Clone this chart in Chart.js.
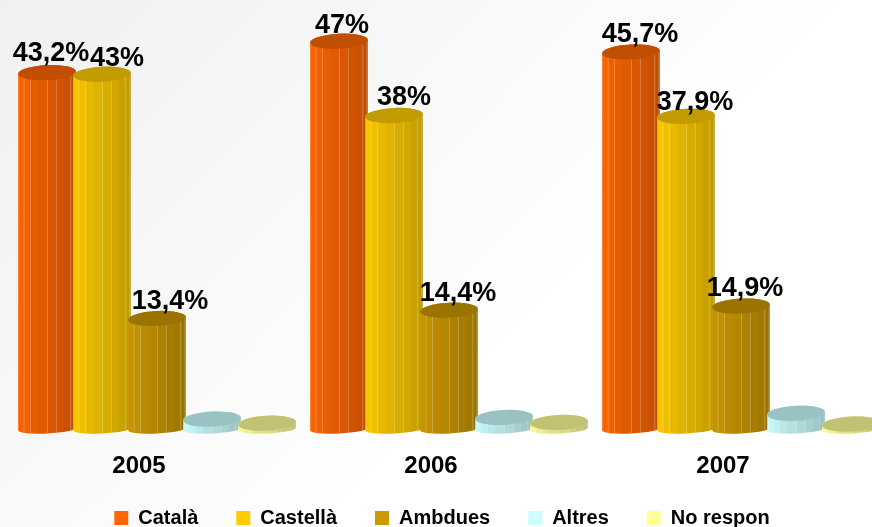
<!DOCTYPE html>
<html lang="ca">
<head>
    <meta charset="UTF-8">
    <title>Llengua 2005-2007</title>
    <script src="https://cdn.jsdelivr.net/npm/chart.js"></script>
    <style>
        html, body {
            margin: 0;
            width: 872px;
            height: 527px;
            overflow: hidden;
            background: linear-gradient(135deg, #f0f0f0 0%, #f9f9f9 38%, #ffffff 62%);
        }
        .wrap {
            position: absolute;
            left: -18px;
            top: 0;
            width: 918px;
            height: 544px;
        }
    </style>
</head>
<body>
    <div class="wrap"><canvas id="myChart"></canvas></div>

    <script>
        const years = ['2005', '2006', '2007'];
        const catala = [43.2, 47, 45.7];
        const castella = [43, 38, 37.9];
        const ambdues = [13.4, 14.4, 14.9];
        const altres = [1.2, 1.4, 1.9];
        const noRespon = [0.7, 0.8, 0.6];

        // només aquestes sèries porten etiqueta
        const labelled = [0, 1, 2];
        const labelNudgeX = [[4, 3, 9], [15, 10, 9], [13, 9, 4]];
        const labelNudgeY = [[-3, 1, -1], [1, -2, 3], [0, 0, -1]];

        const series = [
            { label: 'Català', data: catala, color: [255, 102, 0] },
            { label: 'Castellà', data: castella, color: [255, 204, 0] },
            { label: 'Ambdues', data: ambdues, color: [204, 153, 0] },
            { label: 'Altres', data: altres, color: [204, 255, 255] },
            { label: 'No respon', data: noRespon, color: [255, 255, 153] }
        ];

        function shade(c, k) {
            return `rgb(${Math.round(c[0] * k)},${Math.round(c[1] * k)},${Math.round(c[2] * k)})`;
        }

        // dibuixa cada barra com un cilindre a partir de l'element del gràfic
        function drawCylinder(ctx, bar, color) {
            const w = bar.width;
            const rx = w / 2;
            const tilt = -0.05;
            const topRy = 7.5;
            const baseRy = 4.5;

            ctx.save();
            ctx.beginPath();
            ctx.ellipse(bar.x, bar.y, rx, topRy, tilt, Math.PI, 0, false);
            ctx.ellipse(bar.x, bar.base, rx, baseRy, tilt, 0, Math.PI, false);
            ctx.closePath();
            ctx.clip();

            const facets = 10;
            for (let i = 0; i < facets; i++) {
                const a = Math.PI * i / facets;
                const b = Math.PI * (i + 1) / facets;
                const x0 = bar.x - rx * Math.cos(a);
                const x1 = bar.x - rx * Math.cos(b);
                ctx.fillStyle = shade(color, 1 - 0.27 * i / (facets - 1));
                ctx.fillRect(x0, bar.y - 15, x1 - x0 + 0.5, bar.base - bar.y + 30);
                if (i > 0 && i % 3 !== 1) {
                    ctx.fillStyle = 'rgba(255,255,255,0.25)';
                    ctx.fillRect(x0, bar.y - 15, 1, bar.base - bar.y + 30);
                }
            }
            ctx.restore();

            ctx.fillStyle = shade(color, 0.76);
            ctx.beginPath();
            ctx.ellipse(bar.x, bar.y, rx, topRy, tilt, 0, Math.PI * 2);
            ctx.fill();
        }

        const cylinders = {
            id: 'cylinders',
            // la llegenda queda una mica més amunt i a l'esquerra del que toca per defecte
            afterLayout(chart) {
                chart.legend.top -= 6;
                chart.legend.left -= 7;
                chart.legend.right -= 7;
            },
            // el gràfic pinta de l'última sèrie a la primera: ho cancel·lem i ho fem al revés
            beforeDatasetDraw() {
                return false;
            },
            afterDatasetsDraw(chart) {
                const ctx = chart.ctx;
                series.forEach((s, idx) => {
                    chart.getDatasetMeta(idx).data.forEach(el => {
                        drawCylinder(ctx, el.getProps(['x', 'y', 'base', 'width'], true), s.color);
                    });
                });

                ctx.save();
                ctx.fillStyle = '#000';
                ctx.font = 'bold 27px "Liberation Sans", Arial, sans-serif';
                ctx.textAlign = 'center';
                ctx.textBaseline = 'alphabetic';
                labelled.forEach(s => {
                    chart.getDatasetMeta(s).data.forEach((el, i) => {
                        const text = String(series[s].data[i]).replace('.', ',') + '%';
                        ctx.fillText(text, el.x + labelNudgeX[s][i], el.y - 9 + labelNudgeY[s][i]);
                    });
                });
                ctx.restore();
            }
        };

        const ctx = document.getElementById('myChart').getContext('2d');
        const myChart = new Chart(ctx, {
            type: 'bar',
            data: {
                labels: years,
                datasets: series.map(s => ({
                    label: s.label,
                    data: s.data,
                    backgroundColor: shade(s.color, 1),
                    barPercentage: 1.05,
                    categoryPercentage: 0.942
                }))
            },
            plugins: [cylinders],
            options: {
                responsive: true,
                maintainAspectRatio: false,
                animation: false,
                layout: { padding: { left: 29, right: 13, top: 0, bottom: 0 } },
                plugins: {
                    tooltip: { enabled: false },
                    legend: {
                        position: 'bottom',
                        labels: {
                            boxWidth: 14,
                            boxHeight: 14,
                            padding: 38,
                            color: '#000',
                            font: { family: '"Liberation Sans", Arial, sans-serif', size: 20, weight: 'bold' }
                        }
                    }
                },
                scales: {
                    x: {
                        grid: { display: false },
                        border: { display: false },
                        afterFit(scale) { scale.height = 47; },
                        ticks: {
                            color: '#000',
                            labelOffset: -18,
                            padding: 15,
                            maxRotation: 0,
                            font: { family: '"Liberation Sans", Arial, sans-serif', size: 24, weight: 'bold' }
                        }
                    },
                    y: { display: false, min: 0, max: 52 }
                }
            }
        });
    </script>
</body>
</html>
